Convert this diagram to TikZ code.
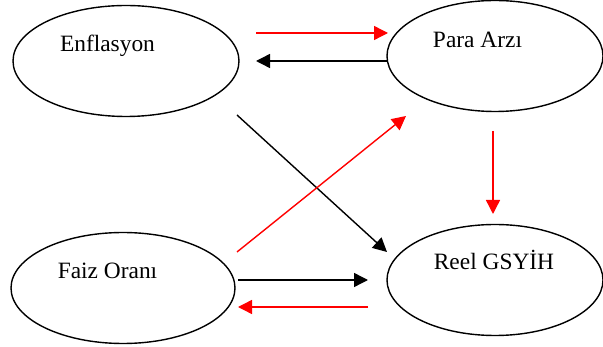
\documentclass[tikz,border=0pt]{standalone}
\usepackage{fontspec}
\setmainfont{Liberation Serif}
\usetikzlibrary{shapes.geometric,arrows.meta}
\tikzstyle{sector}=[ellipse, draw, line width=1.4pt, inner sep=0pt, minimum height=111pt]
\tikzstyle{vartext}=[anchor=base, inner sep=0pt, font=\fontsize{23.4}{28}\selectfont]
\tikzstyle{blk}=[line width=1.4pt, -{Triangle[length=14pt,width=14pt]}]
\tikzstyle{rd}=[blk, red]

\begin{document}
\begin{tikzpicture}[x=1pt, y=-1pt]
  \useasboundingbox (0,0) rectangle (603,347);
  % the four ellipses
  \node[sector, minimum width=226pt] (enf) at (126,61) {};
  \node[sector, minimum width=216pt] (para) at (495,56) {};
  \node[sector, minimum width=224pt] (faiz) at (123,288) {};
  \node[sector, minimum width=216pt] (reel) at (495,280) {};
  \node[vartext] (enf-t) at (107.5,52) {Enflasyon};
  \node[vartext] (para-t) at (477.5,48) {Para Arzı};
  \node[vartext] (faiz-t) at (107.5,279) {Faiz Oranı};
  \node[vartext] (reel-t) at (494,270) {Reel GSYİH};
  % arrow ends
  \coordinate (e1) at (256,33);  \coordinate (p1) at (388,33);
  \coordinate (p2) at (387,61);  \coordinate (e2) at (256,61);
  \coordinate (e3) at (237,115); \coordinate (r3) at (387,252);
  \coordinate (f4) at (237,252); \coordinate (p4) at (406,116);
  \coordinate (p5) at (493,131); \coordinate (r5) at (493,214);
  \coordinate (f6) at (238,280); \coordinate (r6) at (368,280);
  \coordinate (r7) at (368,307); \coordinate (f7) at (238,307);
  \draw[rd]  (e1)--(p1);
  \draw[blk] (p2)--(e2);
  \draw[blk] (e3)--(r3);
  \draw[rd]  (f4)--(p4);
  \draw[rd]  (p5)--(r5);
  \draw[blk] (f6)--(r6);
  \draw[rd]  (r7)--(f7);
\end{tikzpicture}
\end{document}
